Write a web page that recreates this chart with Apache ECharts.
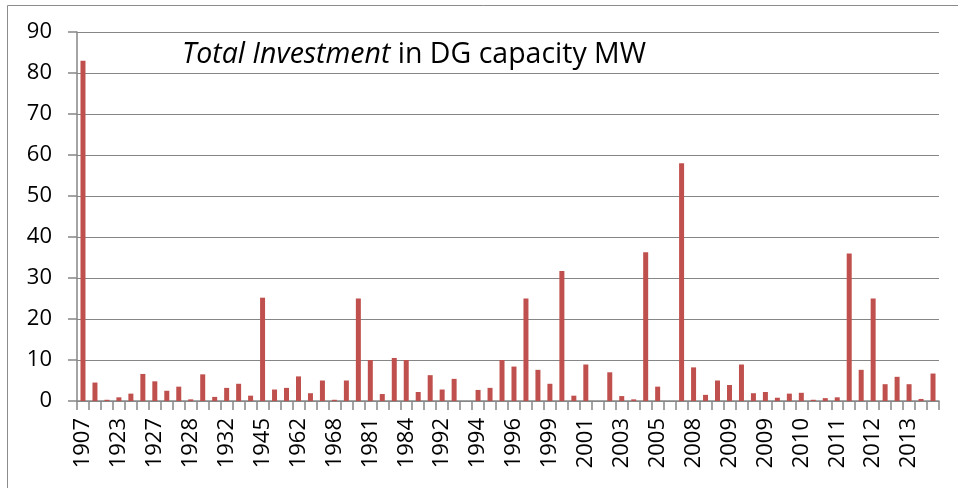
<!DOCTYPE html>
<html>
<head>
<meta charset="utf-8">
<script src="https://cdn.jsdelivr.net/npm/echarts@6/dist/echarts.min.js"></script>
<style>
html,body{margin:0;padding:0;background:#fff;}
#chart{width:958px;height:488px;}
</style>
</head>
<body>
<div id="chart"></div>
<script>
// Category labels (every 3rd is shown on the axis)
const categories = [
  '1907','1910','1920','1923','1925','1926','1927','1927','1928','1928','1930','1931',
  '1932','1935','1940','1945','1950','1958','1962','1965','1967','1968','1975','1980',
  '1981','1982','1983','1984','1987','1990','1992','1993','1993','1994','1995','1995',
  '1996','1997','1998','1999','2000','2000','2001','2002','2002','2003','2004','2004',
  '2005','2006','2007','2008','2008','2008','2009','2009','2009','2009','2010','2010',
  '2010','2011','2011','2011','2011','2012','2012','2012','2013','2013','2013','2013'
];
// Total investment in DG capacity (MW)
const investment = [
  83, 4.5, 0.3, 0.9, 1.8, 6.6, 4.8, 2.5, 3.5, 0.4, 6.5, 1.0,
  3.2, 4.2, 1.3, 25.2, 2.8, 3.2, 6.0, 1.9, 5.0, 0.3, 5.0, 25,
  10.0, 1.7, 10.5, 10.0, 2.2, 6.3, 2.8, 5.4, 0, 2.7, 3.2, 10.0,
  8.4, 25, 7.6, 4.2, 31.7, 1.3, 8.9, 0, 7.0, 1.2, 0.4, 36.3,
  3.5, 0, 58.0, 8.2, 1.5, 5.0, 3.9, 8.9, 1.9, 2.2, 0.8, 1.8,
  2.0, 0.3, 0.7, 0.9, 36.0, 7.6, 25, 4.1, 5.9, 4.1, 0.5, 6.7
];
const yTicks = { min: 0, max: 90, interval: 10 };

const chart = echarts.init(document.getElementById('chart'), null, { renderer: 'canvas' });
const gray = '#868686';
chart.setOption({
  animation: false,
  backgroundColor: '#ffffff',
  title: {
    text: '{i|Total Investment}{n| in DG capacity MW}',
    left: 182,
    top: 37,
    padding: 0,
    textStyle: {
      fontWeight: 'normal',
      rich: {
        i: { fontFamily: 'Open Sans', fontStyle: 'italic', fontWeight: 'normal', fontSize: 28.5, color: '#000', lineHeight: 36 },
        n: { fontFamily: 'Open Sans', fontWeight: 'normal', fontSize: 28.5, color: '#000', lineHeight: 36 }
      }
    }
  },
  graphic: [{
    type: 'rect',
    shape: { x: 7.5, y: 5.5, width: 1200, height: 1200 },
    style: { fill: 'none', stroke: '#8c8c8c', lineWidth: 1 },
    silent: true
  }],
  grid: { left: 77, right: 19, top: 32, bottom: 87, containLabel: false },
  xAxis: {
    type: 'category',
    data: categories,
    boundaryGap: true,
    axisLine: { show: true, lineStyle: { color: gray, width: 1.5 } },
    axisTick: { show: true, interval: 0, length: 9, lineStyle: { color: gray, width: 1.5 } },
    axisLabel: {
      interval: 2,
      rotate: 90,
      margin: 17,
      fontFamily: 'Open Sans',
      fontSize: 22,
      color: '#000'
    },
    splitLine: { show: false }
  },
  yAxis: {
    type: 'value',
    min: yTicks.min,
    max: yTicks.max,
    interval: yTicks.interval,
    axisLine: { show: true, lineStyle: { color: gray, width: 1.5 } },
    axisTick: { show: true, length: 9, lineStyle: { color: gray, width: 1.5 } },
    axisLabel: {
      margin: 25,
      fontFamily: 'Open Sans',
      fontSize: 22,
      color: '#000'
    },
    splitLine: { show: true, lineStyle: { color: gray, width: 1 } }
  },
  series: [{
    type: 'bar',
    data: investment,
    barWidth: 5,
    itemStyle: { color: '#C0504D' }
  }]
});
</script>
</body>
</html>
